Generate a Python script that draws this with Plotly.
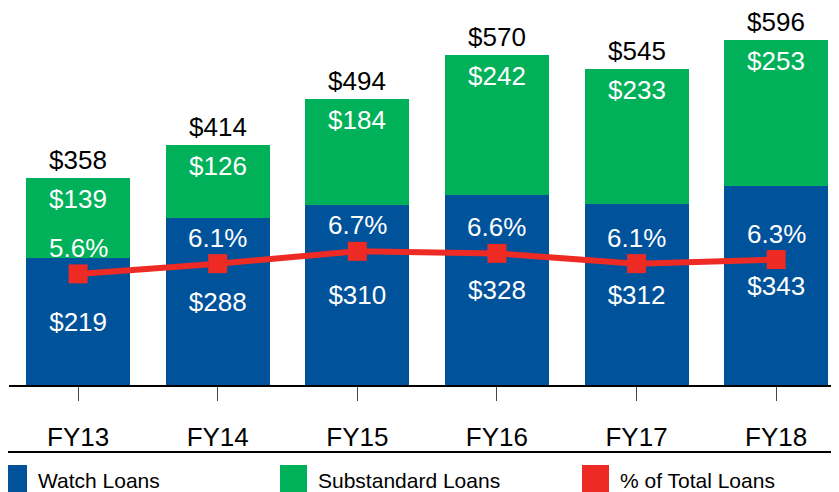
import plotly.graph_objects as go

years = ["FY13", "FY14", "FY15", "FY16", "FY17", "FY18"]
watch = [219, 288, 310, 328, 312, 343]
substandard = [139, 126, 184, 242, 233, 253]
totals = [358, 414, 494, 570, 545, 596]
pct_total = [5.6, 6.1, 6.7, 6.6, 6.1, 6.3]

BLUE = "#00529B"
GREEN = "#00B159"
RED = "#EE2A24"
FONT = "Liberation Sans, Arial, sans-serif"

# the page body has an 8px margin, so the figure is a bit smaller than the window
PAGE = 8
W, H = 839 - PAGE, 492 - PAGE
L, B = 1, 107
PW, PH = W - L, H - B


def px_x(x):
    # page pixel -> paper coordinate
    return (x - PAGE - L) / PW


def px_y(y):
    return (PH - (y - PAGE)) / PH


fig = go.Figure()

fig.add_trace(go.Bar(
    x=years, y=watch, name="Watch Loans",
    marker=dict(color=BLUE, line=dict(width=0)),
    text=[f"${v}" for v in watch], textposition="inside",
    insidetextanchor="middle", textangle=0,
    textfont=dict(color="white", size=26, family=FONT),
    width=0.745, showlegend=False,
))
fig.add_trace(go.Bar(
    x=years, y=substandard, name="Substandard Loans",
    marker=dict(color=GREEN, line=dict(width=0)),
    width=0.745, showlegend=False,
))
fig.add_trace(go.Scatter(
    x=years, y=pct_total, name="% of Total Loans", yaxis="y2",
    mode="lines+markers", line=dict(color=RED, width=6),
    marker=dict(symbol="square", size=19, color=RED),
    showlegend=False,
))

annotations = []
for yr, tot, sub, pct in zip(years, totals, substandard, pct_total):
    annotations.append(dict(x=yr, y=tot, text=f"${tot}", showarrow=False,
                            yanchor="middle", yshift=18,
                            font=dict(color="black", size=26, family=FONT)))
    annotations.append(dict(x=yr, y=tot, text=f"${sub}", showarrow=False,
                            yanchor="middle", yshift=-21,
                            font=dict(color="white", size=26, family=FONT)))
    annotations.append(dict(x=yr, y=pct, yref="y2", text=f"{pct}%",
                            showarrow=False, yanchor="middle", yshift=26,
                            font=dict(color="white", size=26, family=FONT)))

# legend drawn by hand below the separator line
legend_items = [("Watch Loans", BLUE, 0), ("Substandard Loans", GREEN, 280),
                ("% of Total Loans", RED, 582)]
shapes = [dict(type="line", xref="paper", yref="paper",
               x0=px_x(0), x1=px_x(839), y0=px_y(452), y1=px_y(452),
               line=dict(color="black", width=2))]
for label, color, x0 in legend_items:
    shapes.append(dict(type="rect", xref="paper", yref="paper",
                       x0=px_x(x0), x1=px_x(x0 + 27),
                       y0=px_y(465), y1=px_y(493),
                       fillcolor=color, line=dict(width=0)))
    annotations.append(dict(xref="paper", yref="paper", x=px_x(x0 + 36),
                            y=px_y(480), xanchor="left", yanchor="middle",
                            text=label, showarrow=False,
                            font=dict(color="black", size=21, family=FONT)))

fig.update_layout(
    width=W, height=H,
    barmode="stack",
    margin=dict(l=L, r=0, t=0, b=B),
    paper_bgcolor="white", plot_bgcolor="white",
    font=dict(family=FONT, color="black"),
    xaxis=dict(range=[-0.495, 5.45], showline=True, linecolor="black",
               linewidth=2, ticks="outside", ticklen=14, tickcolor="#444",
               tickfont=dict(size=26, color="black"),
               ticklabelstandoff=14, showgrid=False),
    yaxis=dict(range=[0, 651], visible=False, showgrid=False),
    yaxis2=dict(range=[0.18, 18.57], overlaying="y", visible=False,
                showgrid=False),
    annotations=annotations,
    shapes=shapes,
)

fig.write_html("out.html")
